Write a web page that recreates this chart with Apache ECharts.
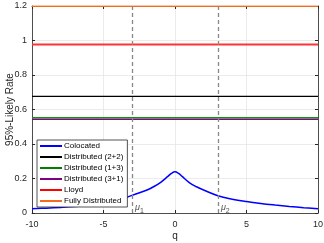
<!DOCTYPE html>
<html><head><meta charset="utf-8">
<script src="https://cdn.jsdelivr.net/npm/echarts@6/dist/echarts.min.js"></script>
<style>html,body{margin:0;padding:0;background:#fff}#c{width:324px;height:243px}</style>
</head><body><div id="c"></div>
<script>
const qColocated = [-10,-9,-8,-7,-6,-5,-4,-3,-2,-1.5,-1,-0.5,-0.25,0,0.25,0.5,1,1.5,2,3,4,5,6,7,8,9,10];
const colocated  = [0.025,0.028,0.032,0.037,0.044,0.054,0.072,0.102,0.132,0.152,0.178,0.212,0.230,0.239,0.230,0.212,0.176,0.152,0.133,0.100,0.080,0.066,0.055,0.046,0.038,0.031,0.025];
const xRange = [-10, 10];
const dist22 = 0.676;
const dist13 = 0.552;
const dist31 = 0.544;
const lloyd = 0.977;
const fullyDist = 1.199;
const muPositions = [-3, 3];
const muNames = ['1', '2'];
const xTicks = [-10, -5, 0, 5, 10];
const yTicks = [0, 0.2, 0.4, 0.6, 0.8, 1, 1.2];

const font = 'Liberation Sans, Arial, sans-serif';
function flat(v){ return xRange.map(x => [x, v]); }

const chart = echarts.init(document.getElementById('c'), null, {renderer:'canvas'});
const axisCommon = {
  axisLine:{show:true, onZero:false, lineStyle:{color:'#262626', width:0.8}},
  axisTick:{show:true, inside:true, length:3, lineStyle:{color:'#262626'}},
  splitLine:{show:true, lineStyle:{color:'#e6e6e6', width:0.8}},
  axisLabel:{color:'#262626', fontSize:9, fontFamily:font}
};
const option = {
  animation:false,
  grid:{left:32, right:6, top:6, bottom:30, containLabel:false, outerBoundsMode:'none'},
  xAxis:[Object.assign({type:'value', min:-10, max:10, interval:5, name:'q', nameLocation:'middle', nameGap:18, nameMoveOverlap:false,
    nameTextStyle:{color:'#262626', fontSize:10, fontFamily:font}}, axisCommon,
    {axisLabel:Object.assign({}, axisCommon.axisLabel, {margin:7, formatter:v=>String(v)})}),
    Object.assign({type:'value', min:-10, max:10, interval:5, position:'top'}, axisCommon, {axisLabel:{show:false}, splitLine:{show:false}})],
  yAxis:[Object.assign({type:'value', min:0, max:1.2, interval:0.2, name:'95%-Likely Rate', nameLocation:'middle', nameGap:17, nameMoveOverlap:false,
    nameTextStyle:{color:'#262626', fontSize:10, fontFamily:font}}, axisCommon,
    {axisLabel:Object.assign({}, axisCommon.axisLabel, {margin:5, formatter:v=>String(Math.round(v*10)/10)})}),
    Object.assign({type:'value', min:0, max:1.2, interval:0.2, position:'right'}, axisCommon, {axisLabel:{show:false}, splitLine:{show:false}})],
  legend:{
    orient:'vertical', left:37, top:140, itemWidth:22, itemHeight:2, itemGap:3,
    backgroundColor:'#fff', borderColor:'#262626', borderWidth:0.8, borderRadius:0, padding:[2,4,2,3],
    textStyle:{fontSize:8, color:'#000', fontFamily:font, padding:[0,0,0,-3]},
    icon:'rect',
    data:['Colocated','Distributed (2+2)','Distributed (1+3)','Distributed (3+1)','Lloyd','Fully Distributed']
  },
  series:[
    {name:'Colocated', type:'line', smooth:0.4, symbol:'none', data:qColocated.map((q,i)=>[q, colocated[i]]),
      lineStyle:{color:'#0000ff', width:1.5}, itemStyle:{color:'#0000ff'}, z:3,
      markLine:{silent:true, symbol:'none', label:{show:false},
        lineStyle:{color:'#888', type:[4,3], width:1.3},
        data:muPositions.map(x=>({xAxis:x}))}},
    {name:'Distributed (2+2)', type:'line', symbol:'none', data:flat(dist22), lineStyle:{color:'#000', width:1.3}, itemStyle:{color:'#000'}},
    {name:'Distributed (3+1)', type:'line', symbol:'none', data:flat(dist31), lineStyle:{color:'#8b008b', width:1.5}, itemStyle:{color:'#800080'}},
    {name:'Distributed (1+3)', type:'line', symbol:'none', data:flat(dist13), lineStyle:{color:'#109010', width:1.5}, itemStyle:{color:'#008000'}},
    {name:'Lloyd', type:'line', symbol:'none', data:flat(lloyd), lineStyle:{color:'#ff3333', width:2}, itemStyle:{color:'#ff0000'}},
    {name:'Fully Distributed', type:'line', symbol:'none', data:flat(fullyDist), lineStyle:{color:'#f26b21', width:1.5}, itemStyle:{color:'#f26b21'}},
    {name:'mu', type:'scatter', symbolSize:0, data:muPositions.map((x,i)=>({value:[x,0.025], name:muNames[i]})),
      label:{show:true, position:'right', distance:3, formatter:p=>'{m|μ}{s|'+p.name+'}',
        rich:{m:{fontSize:9, lineHeight:12, verticalAlign:'top', fontStyle:'italic', color:'#262626', fontFamily:font},
              s:{fontSize:7, lineHeight:12, verticalAlign:'bottom', color:'#262626', fontFamily:font}}}, z:2}
  ]
};
chart.setOption(option);
</script></body></html>
